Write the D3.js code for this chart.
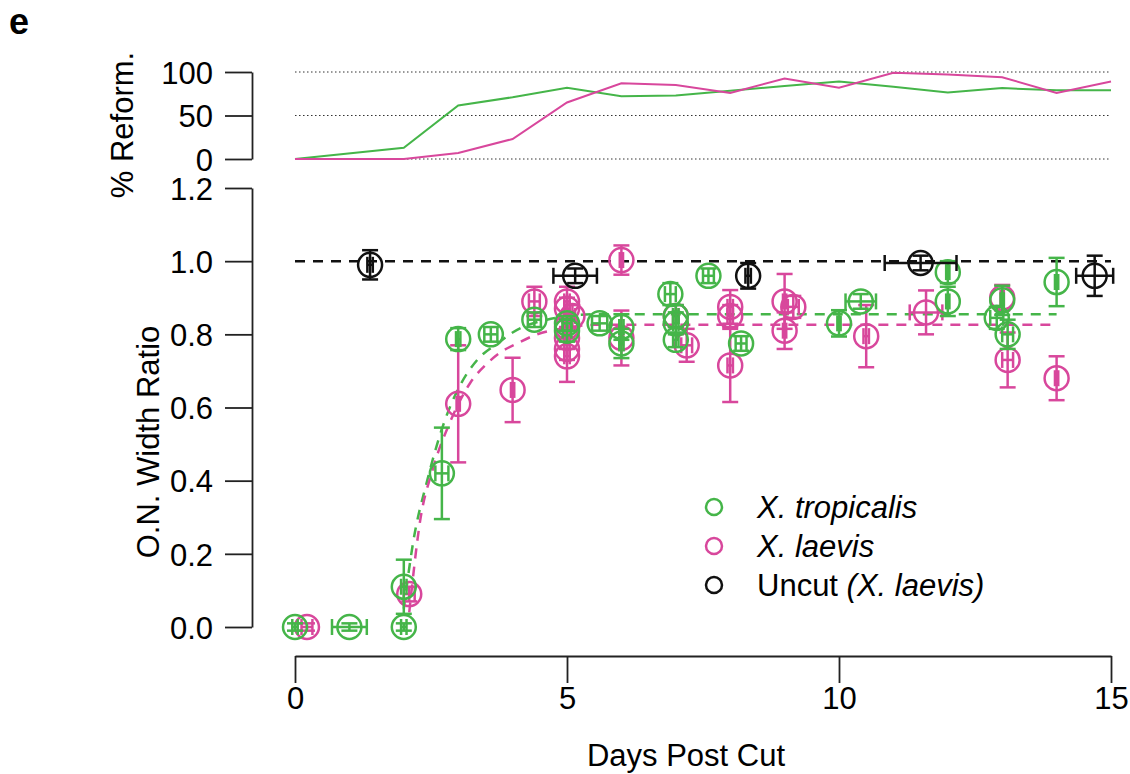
<!DOCTYPE html>
<html>
<head>
<meta charset="utf-8">
<script src="https://cdn.jsdelivr.net/npm/d3@7"></script>
<style>
  body { margin: 0; background: #fff; }
  svg { font-family: "Liberation Sans", Arial, Helvetica, sans-serif; }
</style>
</head>
<body>
<svg id="chart" width="1130" height="774"></svg>
<script>
// % reformation (top panel)
const reformDays = [0, 2, 3, 4, 5, 6, 7, 8, 9, 10, 11, 12, 13, 14, 15];
const reformTrop = [0, 13, 61.5, 71, 82, 72, 73, 78.5, 84, 89, 83, 76.5, 81.5, 79, 79];
const reformLaev = [0, 0, 7, 23, 65, 87, 85, 76, 92.5, 82, 99, 97, 94, 76, 89];

// O.N. width ratio points: [day, ratio, xErr, yErr]
const tropPoints = [
  [0.0, 0.0, 0.05, 0.01], [1.0, 0.0, 0.32, 0.01], [2.0, 0.0, 0.05, 0.01],
  [2.0, 0.11, 0.05, 0.074], [2.7, 0.42, 0.12, 0.125], [3.0, 0.787, 0.04, 0.03],
  [3.6, 0.80, 0.12, 0.02], [4.4, 0.84, 0.12, 0.02], [5.0, 0.81, 0.08, 0.03],
  [5.0, 0.83, 0.08, 0.02], [5.6, 0.83, 0.14, 0.02], [6.0, 0.82, 0.04, 0.035],
  [6.0, 0.775, 0.04, 0.04], [6.9, 0.91, 0.1, 0.03], [7.0, 0.85, 0.05, 0.03],
  [7.0, 0.83, 0.05, 0.03], [7.0, 0.785, 0.05, 0.02], [7.6, 0.96, 0.1, 0.02],
  [8.2, 0.775, 0.1, 0.02], [10.0, 0.83, 0.03, 0.036], [10.4, 0.89, 0.28, 0.02],
  [12.0, 0.97, 0.03, 0.03], [12.0, 0.89, 0.03, 0.04], [13.0, 0.893, 0.03, 0.04],
  [12.9, 0.845, 0.12, 0.03], [13.1, 0.80, 0.1, 0.04], [14.0, 0.943, 0.03, 0.066]
];
const laevPoints = [
  [0.22, 0.0, 0.1, 0.01], [2.1, 0.09, 0.1, 0.02], [3.0, 0.61, 0.03, 0.16],
  [4.0, 0.648, 0.03, 0.088], [4.4, 0.89, 0.1, 0.04], [5.0, 0.89, 0.05, 0.04],
  [5.0, 0.87, 0.05, 0.03], [5.1, 0.85, 0.05, 0.03], [5.0, 0.82, 0.05, 0.03],
  [5.0, 0.79, 0.05, 0.03], [5.0, 0.76, 0.05, 0.03], [5.0, 0.74, 0.05, 0.07],
  [6.0, 1.003, 0.03, 0.04], [6.0, 0.79, 0.03, 0.075], [7.0, 0.85, 0.05, 0.03],
  [7.2, 0.77, 0.1, 0.045], [8.0, 0.875, 0.05, 0.046], [8.0, 0.85, 0.05, 0.03],
  [8.0, 0.715, 0.05, 0.10], [9.0, 0.89, 0.03, 0.075], [9.0, 0.81, 0.03, 0.05],
  [9.16, 0.875, 0.1, 0.03], [10.5, 0.795, 0.05, 0.085], [11.6, 0.86, 0.3, 0.06],
  [13.0, 0.90, 0.03, 0.035], [13.1, 0.73, 0.1, 0.075], [14.0, 0.68, 0.03, 0.06]
];
const uncutPoints = [
  [1.38, 0.99, 0.05, 0.04], [5.15, 0.96, 0.4, 0.02], [8.33, 0.96, 0.05, 0.035],
  [11.5, 0.995, 0.66, 0.02], [14.7, 0.96, 0.34, 0.055]
];

// fitted curves: [day, ratio]
const tropFit = [[2.0, 0.05], [2.17, 0.23], [2.43, 0.40], [2.72, 0.55], [3.07, 0.67],
  [3.35, 0.73], [3.77, 0.78], [4.0, 0.805], [4.63, 0.84], [5.5, 0.855], [14.0, 0.855]];
const laevFit = [[2.1, 0.04], [2.3, 0.29], [2.53, 0.43], [2.85, 0.56], [3.22, 0.667],
  [3.53, 0.72], [3.77, 0.75], [4.08, 0.775], [4.45, 0.80], [5.0, 0.818], [5.5, 0.826], [14.0, 0.826]];
const uncutLine = [[0, 1.0], [15, 1.0]];

const xTicks = [0, 5, 10, 15];
const yTicks = [0, 0.2, 0.4, 0.6, 0.8, 1.0, 1.2];
const topTicks = [0, 50, 100];

const green = "#45b549", pink = "#d8479c", black = "#111";
const fs = 31;

const svg = d3.select("#chart");

const x = d3.scaleLinear().domain([0, 15]).range([295, 1111]);
const y = d3.scaleLinear().domain([0, 1.2]).range([627, 188]);
const yTop = d3.scaleLinear().domain([0, 100]).range([159, 72]);

// top panel
svg.append("g").selectAll("line").data(topTicks).enter().append("line")
  .attr("x1", x(0)).attr("x2", x(15))
  .attr("y1", d => yTop(d)).attr("y2", d => yTop(d))
  .attr("stroke", "#333").attr("stroke-width", 1).attr("stroke-dasharray", "1.5,2.5");

const topLine = d3.line().x((d, i) => x(reformDays[i])).y(d => yTop(d));
[[reformTrop, green], [reformLaev, pink]].forEach(([vals, col]) => {
  svg.append("path").datum(vals).attr("d", topLine)
    .attr("fill", "none").attr("stroke", col).attr("stroke-width", 2);
});

const topAxis = svg.append("g").attr("transform", "translate(252,0)")
  .call(d3.axisLeft(yTop).tickValues(topTicks).tickSize(27).tickSizeOuter(0).tickPadding(12));

const leftAxis = svg.append("g").attr("transform", "translate(252,0)")
  .call(d3.axisLeft(y).tickValues(yTicks).tickFormat(d3.format(".1f")).tickSize(27).tickSizeOuter(0).tickPadding(12));

const bottomAxis = svg.append("g").attr("transform", "translate(0,656)")
  .call(d3.axisBottom(x).tickValues(xTicks).tickSize(27).tickSizeOuter(0).tickPadding(4));

[topAxis, leftAxis, bottomAxis].forEach(g => {
  g.selectAll("path, line").attr("stroke", "#222").attr("stroke-width", 1.8);
  g.selectAll("text").attr("font-size", fs).attr("fill", "#000")
    .attr("font-family", "'Liberation Sans', Arial, sans-serif");
});
leftAxis.selectAll("text").attr("dy", "0.36em");
topAxis.selectAll("text").attr("dy", "0.36em");

// fits
const fitLine = d3.line().x(d => x(d[0])).y(d => y(d[1])).curve(d3.curveMonotoneX);
[[tropFit, green], [laevFit, pink], [uncutLine, black]].forEach(([pts, col]) => {
  svg.append("path").datum(pts).attr("d", fitLine)
    .attr("fill", "none").attr("stroke", col).attr("stroke-width", 2.5)
    .attr("stroke-dasharray", "10,8");
});

// points with error bars
const cap = 8, r = 12;
function drawPoints(pts, col) {
  const g = svg.append("g").attr("stroke", col).attr("stroke-width", 2.5).attr("fill", "none");
  pts.forEach(([d, v, ex, ey]) => {
    const cx = x(d), cy = y(v);
    const x0 = x(d - ex), x1 = x(d + ex), y0 = y(v - ey), y1 = y(v + ey);
    g.append("line").attr("x1", x0).attr("x2", x1).attr("y1", cy).attr("y2", cy);
    g.append("line").attr("x1", x0).attr("x2", x0).attr("y1", cy - cap).attr("y2", cy + cap);
    g.append("line").attr("x1", x1).attr("x2", x1).attr("y1", cy - cap).attr("y2", cy + cap);
    g.append("line").attr("x1", cx).attr("x2", cx).attr("y1", y0).attr("y2", y1);
    g.append("line").attr("x1", cx - cap).attr("x2", cx + cap).attr("y1", y0).attr("y2", y0);
    g.append("line").attr("x1", cx - cap).attr("x2", cx + cap).attr("y1", y1).attr("y2", y1);
    g.append("circle").attr("cx", cx).attr("cy", cy).attr("r", r);
  });
}
drawPoints(laevPoints, pink);
drawPoints(tropPoints, green);
drawPoints(uncutPoints, black);

// legend
const legend = [
  { col: green, parts: [["X. tropicalis", "italic"]] },
  { col: pink, parts: [["X. laevis", "italic"]] },
  { col: black, parts: [["Uncut ", "normal"], ["(X. laevis)", "italic"]] }
];
legend.forEach((l, i) => {
  const ly = 507 + i * 39;
  svg.append("circle").attr("cx", 714).attr("cy", ly).attr("r", 8)
    .attr("fill", "none").attr("stroke", l.col).attr("stroke-width", 2.5);
  const t = svg.append("text").attr("x", 757).attr("y", ly + 11).attr("font-size", fs);
  l.parts.forEach(p => t.append("tspan").attr("font-style", p[1]).text(p[0]));
});

// titles
svg.append("text").attr("transform", "translate(159,442) rotate(-90)")
  .attr("text-anchor", "middle").attr("font-size", fs).text("O.N. Width Ratio");
svg.append("text").attr("transform", "translate(133,125) rotate(-90)")
  .attr("text-anchor", "middle").attr("font-size", fs).text("% Reform.");
svg.append("text").attr("x", 686).attr("y", 766)
  .attr("text-anchor", "middle").attr("font-size", fs).text("Days Post Cut");
svg.append("text").attr("x", 9).attr("y", 34)
  .attr("font-size", 36).attr("font-weight", "bold").text("e");
</script>
</body>
</html>
